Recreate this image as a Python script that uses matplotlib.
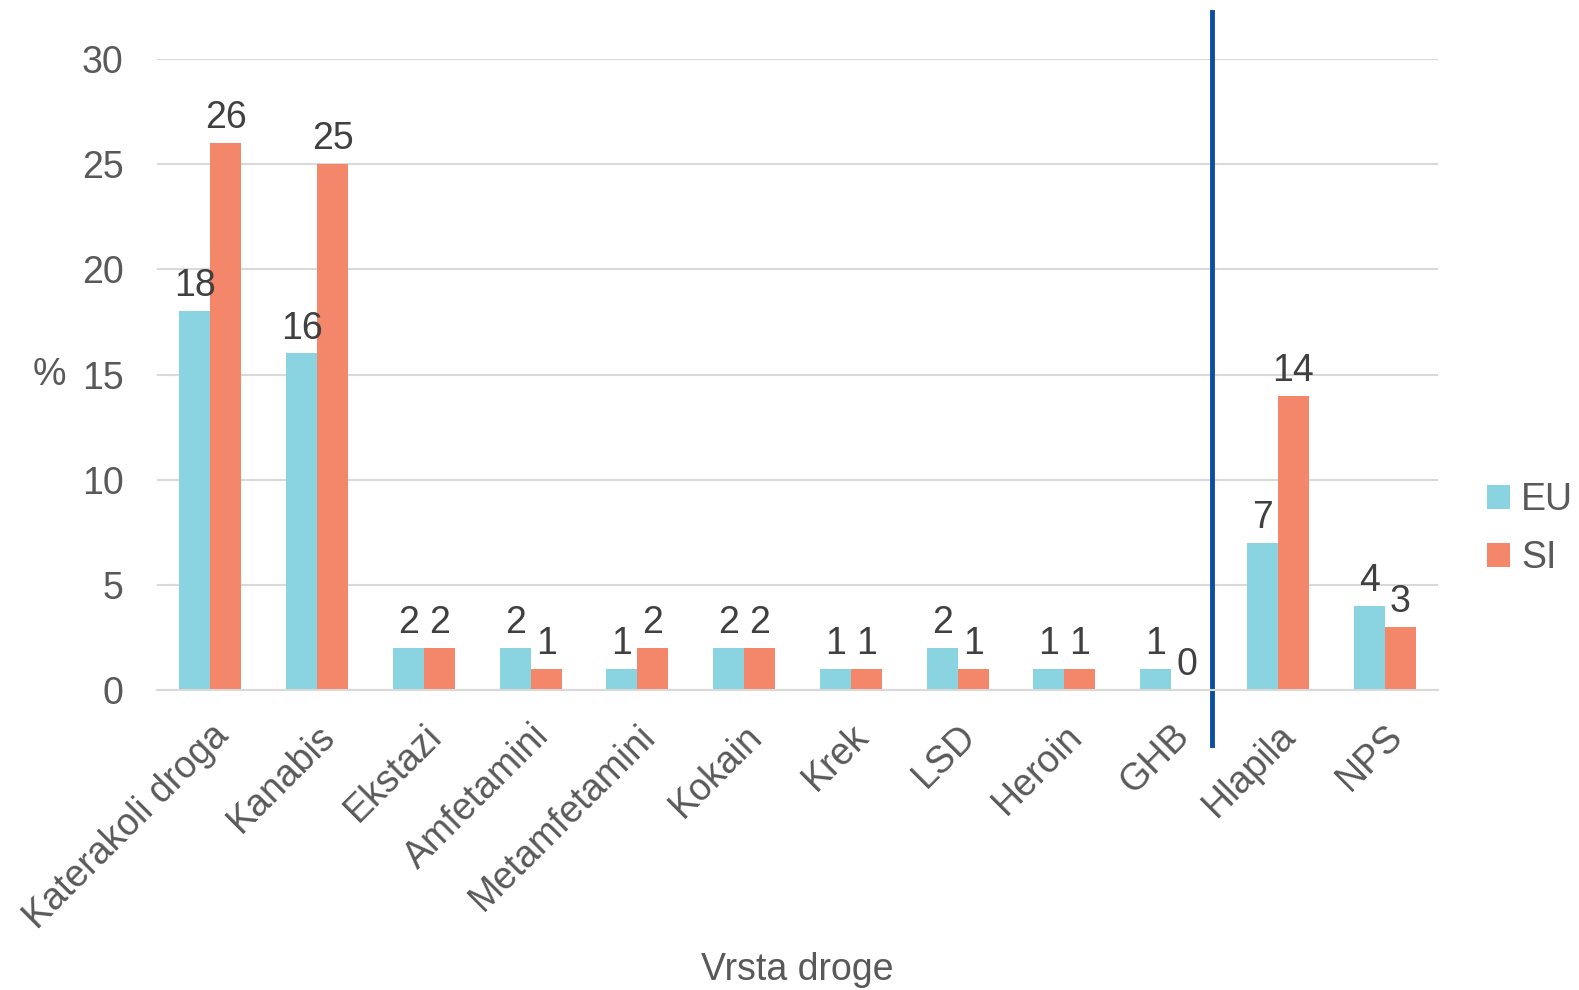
import numpy as np
import matplotlib
matplotlib.use("Agg")
import matplotlib.pyplot as plt
import matplotlib.transforms as mtransforms

# Data
categories = ["Katerakoli droga", "Kanabis", "Ekstazi", "Amfetamini", "Metamfetamini",
              "Kokain", "Krek", "LSD", "Heroin", "GHB", "Hlapila", "NPS"]
eu = [18, 16, 2, 2, 1, 2, 1, 2, 1, 1, 7, 4]
si = [26, 25, 2, 1, 2, 2, 1, 1, 1, 0, 14, 3]
series_names = ["EU", "SI"]

plt.rcParams["font.family"] = ["Liberation Sans", "DejaVu Sans"]
FS = 27

fig = plt.figure(figsize=(15.79, 9.9), dpi=100)
ax = fig.add_axes([0.0994, 0.303, 0.8113, 0.6374])

x = np.arange(len(categories))
w = 0.29
b1 = ax.bar(x - w / 2, eu, w, color="#8AD3E0", label=series_names[0])
b2 = ax.bar(x + w / 2, si, w, color="#F4866A", label=series_names[1])

for bars in (b1, b2):
    ax.bar_label(bars, padding=5, fontsize=FS, color="#404040")

ax.set_xlim(-0.5, len(categories) - 0.5)
ax.set_ylim(0, 30)
ax.set_yticks(range(0, 31, 5))
ax.yaxis.grid(True, color="#D9D9D9", linewidth=1.5)
ax.set_axisbelow(True)
for s in ["top", "right", "left"]:
    ax.spines[s].set_visible(False)
ax.spines["bottom"].set_color("#D9D9D9")
ax.spines["bottom"].set_linewidth(1.5)
ax.tick_params(axis="both", length=0, labelsize=FS, labelcolor="#595959")
ax.tick_params(axis="y", pad=24)

ax.set_xticks(x)
ax.set_xticklabels(categories, rotation=45, ha="right", rotation_mode="anchor")
ax.tick_params(axis="x", pad=20)

ax.set_xlabel("Vrsta droge", fontsize=FS, color="#595959")
ax.set_ylabel("%", fontsize=FS, color="#595959", rotation=0, va="center")
ax.yaxis.set_label_coords(-0.084, 0.5)
ax.xaxis.set_label_coords(0.5, -0.415)

# separator line between drugs and inhalants/NPS
trans = mtransforms.blended_transform_factory(ax.transData, ax.transAxes)
ax.plot([9.38, 9.38], [-0.087, 1.075], transform=trans, color="#0B4EA2",
        linewidth=3.5, clip_on=False)

ax.legend(loc="center left", bbox_to_anchor=(1.012, 0.255), frameon=False,
          fontsize=FS, labelcolor="#595959", handlelength=0.6, handleheight=0.6,
          handletextpad=0.3, labelspacing=0.6)

fig.savefig("out.png", dpi=100)
